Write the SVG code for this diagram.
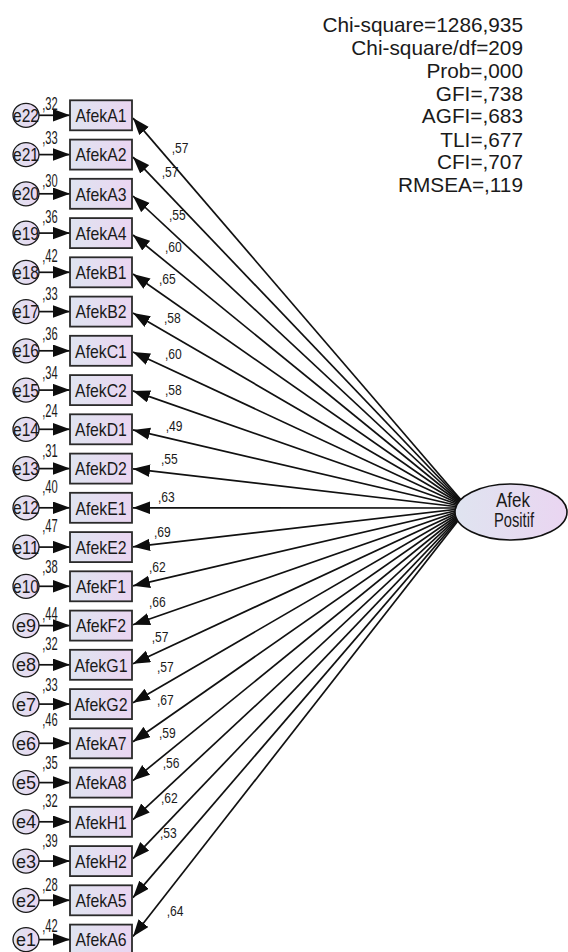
<svg xmlns="http://www.w3.org/2000/svg" width="568" height="952" viewBox="0 0 568 952">
<defs>
<linearGradient id="g" x1="0" y1="0" x2="1" y2="0">
<stop offset="0" stop-color="#dfe4f0"/>
<stop offset="1" stop-color="#ead5f1"/>
</linearGradient>
<marker id="ah" markerUnits="userSpaceOnUse" markerWidth="18" markerHeight="13" refX="17" refY="6.25" orient="auto">
<path d="M0,0 L17,6.25 L0,12.5 z" fill="#0d0d0d"/>
</marker>
</defs>
<style>
text{font-family:"Liberation Sans",Arial,sans-serif;fill:#1a1a1a}
.conn line{stroke:#111;stroke-width:1.7;marker-end:url(#ah)}
.obs rect{fill:url(#g);stroke:#2a2a2a;stroke-width:1.8}
.obs text{font-size:18.5px;text-anchor:middle}
.err ellipse{fill:url(#g);stroke:#1a1a1a;stroke-width:1.3}
.err text{font-size:18px;text-anchor:middle}
.ev{font-size:13px}
.pw{font-size:14.5px}
.fit{font-size:20.8px;text-anchor:end}
.lat ellipse{fill:url(#g);stroke:#111;stroke-width:1.6}
.lat text{font-size:19.5px;text-anchor:middle}
</style>
<rect width="568" height="952" fill="#fff"/>

<g id="fit">
<text class="fit" x="523" y="32.3">Chi-square=1286,935</text>
<text class="fit" x="523" y="55">Chi-square/df=209</text>
<text class="fit" x="523" y="77.7">Prob=,000</text>
<text class="fit" x="523" y="100.7">GFI=,738</text>
<text class="fit" x="523" y="123.3">AGFI=,683</text>
<text class="fit" x="523" y="146.7">TLI=,677</text>
<text class="fit" x="523" y="169.3">CFI=,707</text>
<text class="fit" x="523" y="192.3">RMSEA=,119</text>
</g>

<g id="connectors" class="conn">
<line x1="39" y1="115.3" x2="70" y2="115.3"/>
<line x1="39" y1="154.6" x2="70" y2="154.6"/>
<line x1="39" y1="193.8" x2="70" y2="193.8"/>
<line x1="39" y1="233.1" x2="70" y2="233.1"/>
<line x1="39" y1="272.3" x2="70" y2="272.3"/>
<line x1="39" y1="311.6" x2="70" y2="311.6"/>
<line x1="39" y1="350.8" x2="70" y2="350.8"/>
<line x1="39" y1="390.1" x2="70" y2="390.1"/>
<line x1="39" y1="429.3" x2="70" y2="429.3"/>
<line x1="39" y1="468.6" x2="70" y2="468.6"/>
<line x1="39" y1="507.8" x2="70" y2="507.8"/>
<line x1="39" y1="547.1" x2="70" y2="547.1"/>
<line x1="39" y1="586.3" x2="70" y2="586.3"/>
<line x1="39" y1="625.6" x2="70" y2="625.6"/>
<line x1="39" y1="664.8" x2="70" y2="664.8"/>
<line x1="39" y1="704.1" x2="70" y2="704.1"/>
<line x1="39" y1="743.3" x2="70" y2="743.3"/>
<line x1="39" y1="782.6" x2="70" y2="782.6"/>
<line x1="39" y1="821.8" x2="70" y2="821.8"/>
<line x1="39" y1="861.1" x2="70" y2="861.1"/>
<line x1="39" y1="900.3" x2="70" y2="900.3"/>
<line x1="39" y1="939.6" x2="70" y2="939.6"/>

<line x1="468" y1="508" x2="133" y2="118.1"/>
<line x1="468" y1="508" x2="133" y2="157.1"/>
<line x1="468" y1="508" x2="133" y2="196.0"/>
<line x1="468" y1="508" x2="133" y2="235.0"/>
<line x1="468" y1="508" x2="133" y2="274.0"/>
<line x1="468" y1="508" x2="133" y2="313.0"/>
<line x1="468" y1="508" x2="133" y2="352.0"/>
<line x1="468" y1="508" x2="133" y2="390.9"/>
<line x1="468" y1="508" x2="133" y2="429.9"/>
<line x1="468" y1="508" x2="133" y2="468.8"/>
<line x1="468" y1="508" x2="133" y2="507.8"/>
<line x1="468" y1="508" x2="133" y2="546.8"/>
<line x1="468" y1="508" x2="133" y2="585.8"/>
<line x1="468" y1="508" x2="133" y2="624.8"/>
<line x1="468" y1="508" x2="133" y2="663.7"/>
<line x1="468" y1="508" x2="133" y2="702.7"/>
<line x1="468" y1="508" x2="133" y2="741.7"/>
<line x1="468" y1="508" x2="133" y2="780.6"/>
<line x1="468" y1="508" x2="133" y2="819.6"/>
<line x1="468" y1="508" x2="133" y2="858.6"/>
<line x1="468" y1="508" x2="133" y2="897.6"/>
<line x1="468" y1="508" x2="133" y2="936.6"/>
</g>

<g id="path-weights">
<text class="pw" x="171.7" y="153" textLength="16.8" lengthAdjust="spacingAndGlyphs">,57</text>
<text class="pw" x="161.7" y="177" textLength="16.8" lengthAdjust="spacingAndGlyphs">,57</text>
<text class="pw" x="169" y="220" textLength="16.8" lengthAdjust="spacingAndGlyphs">,55</text>
<text class="pw" x="165" y="251.7" textLength="16.8" lengthAdjust="spacingAndGlyphs">,60</text>
<text class="pw" x="159" y="284" textLength="16.8" lengthAdjust="spacingAndGlyphs">,65</text>
<text class="pw" x="164" y="323" textLength="16.8" lengthAdjust="spacingAndGlyphs">,58</text>
<text class="pw" x="165" y="359" textLength="16.8" lengthAdjust="spacingAndGlyphs">,60</text>
<text class="pw" x="165" y="395" textLength="16.8" lengthAdjust="spacingAndGlyphs">,58</text>
<text class="pw" x="165.7" y="430.7" textLength="16.8" lengthAdjust="spacingAndGlyphs">,49</text>
<text class="pw" x="161" y="464" textLength="16.8" lengthAdjust="spacingAndGlyphs">,55</text>
<text class="pw" x="158" y="501.7" textLength="16.8" lengthAdjust="spacingAndGlyphs">,63</text>
<text class="pw" x="154" y="536.7" textLength="16.8" lengthAdjust="spacingAndGlyphs">,69</text>
<text class="pw" x="149" y="571.7" textLength="16.8" lengthAdjust="spacingAndGlyphs">,62</text>
<text class="pw" x="149" y="606.7" textLength="16.8" lengthAdjust="spacingAndGlyphs">,66</text>
<text class="pw" x="151.7" y="641.7" textLength="16.8" lengthAdjust="spacingAndGlyphs">,57</text>
<text class="pw" x="157" y="671.7" textLength="16.8" lengthAdjust="spacingAndGlyphs">,57</text>
<text class="pw" x="157" y="705" textLength="16.8" lengthAdjust="spacingAndGlyphs">,67</text>
<text class="pw" x="159" y="738" textLength="16.8" lengthAdjust="spacingAndGlyphs">,59</text>
<text class="pw" x="162.7" y="768" textLength="16.8" lengthAdjust="spacingAndGlyphs">,56</text>
<text class="pw" x="161" y="803" textLength="16.8" lengthAdjust="spacingAndGlyphs">,62</text>
<text class="pw" x="160" y="838" textLength="16.8" lengthAdjust="spacingAndGlyphs">,53</text>
<text class="pw" x="166.7" y="915.7" textLength="16.8" lengthAdjust="spacingAndGlyphs">,64</text>
</g>

<g id="afek-positif" class="lat">
<ellipse cx="511" cy="512" rx="56" ry="28"/>
<text x="513" y="506.7" textLength="34" lengthAdjust="spacingAndGlyphs">Afek</text>
<text x="514" y="527" textLength="40" lengthAdjust="spacingAndGlyphs">Positif</text>
</g>

<g id="AfekA1" class="obs"><rect x="70" y="100.3" width="62" height="30"/><text x="101" y="122" textLength="51" lengthAdjust="spacingAndGlyphs">AfekA1</text><text class="ev" x="50" y="109.7" textLength="15.5" lengthAdjust="spacingAndGlyphs">,32</text></g>
<g id="AfekA2" class="obs"><rect x="70" y="139.6" width="62" height="30"/><text x="101" y="161.3" textLength="51" lengthAdjust="spacingAndGlyphs">AfekA2</text><text class="ev" x="50" y="144.2" textLength="15.5" lengthAdjust="spacingAndGlyphs">,33</text></g>
<g id="AfekA3" class="obs"><rect x="70" y="178.8" width="62" height="30"/><text x="101" y="200.5" textLength="51" lengthAdjust="spacingAndGlyphs">AfekA3</text><text class="ev" x="50" y="187.2" textLength="15.5" lengthAdjust="spacingAndGlyphs">,30</text></g>
<g id="AfekA4" class="obs"><rect x="70" y="218.1" width="62" height="30"/><text x="101" y="239.8" textLength="51" lengthAdjust="spacingAndGlyphs">AfekA4</text><text class="ev" x="50" y="223" textLength="15.5" lengthAdjust="spacingAndGlyphs">,36</text></g>
<g id="AfekB1" class="obs"><rect x="70" y="257.3" width="62" height="30"/><text x="101" y="279" textLength="51" lengthAdjust="spacingAndGlyphs">AfekB1</text><text class="ev" x="50" y="262" textLength="15.5" lengthAdjust="spacingAndGlyphs">,42</text></g>
<g id="AfekB2" class="obs"><rect x="70" y="296.6" width="62" height="30"/><text x="101" y="318.3" textLength="51" lengthAdjust="spacingAndGlyphs">AfekB2</text><text class="ev" x="50" y="300" textLength="15.5" lengthAdjust="spacingAndGlyphs">,33</text></g>
<g id="AfekC1" class="obs"><rect x="70" y="335.8" width="62" height="30"/><text x="101" y="357.5" textLength="51.8" lengthAdjust="spacingAndGlyphs">AfekC1</text><text class="ev" x="50" y="340" textLength="15.5" lengthAdjust="spacingAndGlyphs">,36</text></g>
<g id="AfekC2" class="obs"><rect x="70" y="375.1" width="62" height="30"/><text x="101" y="396.8" textLength="51.8" lengthAdjust="spacingAndGlyphs">AfekC2</text><text class="ev" x="50" y="379" textLength="15.5" lengthAdjust="spacingAndGlyphs">,34</text></g>
<g id="AfekD1" class="obs"><rect x="70" y="414.3" width="62" height="30"/><text x="101" y="436" textLength="51.8" lengthAdjust="spacingAndGlyphs">AfekD1</text><text class="ev" x="50" y="417" textLength="15.5" lengthAdjust="spacingAndGlyphs">,24</text></g>
<g id="AfekD2" class="obs"><rect x="70" y="453.6" width="62" height="30"/><text x="101" y="475.3" textLength="51.8" lengthAdjust="spacingAndGlyphs">AfekD2</text><text class="ev" x="50" y="457" textLength="15.5" lengthAdjust="spacingAndGlyphs">,31</text></g>
<g id="AfekE1" class="obs"><rect x="70" y="492.8" width="62" height="30"/><text x="101" y="514.5" textLength="51" lengthAdjust="spacingAndGlyphs">AfekE1</text><text class="ev" x="50" y="493" textLength="15.5" lengthAdjust="spacingAndGlyphs">,40</text></g>
<g id="AfekE2" class="obs"><rect x="70" y="532.1" width="62" height="30"/><text x="101" y="553.8" textLength="51" lengthAdjust="spacingAndGlyphs">AfekE2</text><text class="ev" x="50" y="532" textLength="15.5" lengthAdjust="spacingAndGlyphs">,47</text></g>
<g id="AfekF1" class="obs"><rect x="70" y="571.3" width="62" height="30"/><text x="101" y="593" textLength="50.2" lengthAdjust="spacingAndGlyphs">AfekF1</text><text class="ev" x="50" y="573" textLength="15.5" lengthAdjust="spacingAndGlyphs">,38</text></g>
<g id="AfekF2" class="obs"><rect x="70" y="610.6" width="62" height="30"/><text x="101" y="632.3" textLength="50.2" lengthAdjust="spacingAndGlyphs">AfekF2</text><text class="ev" x="50" y="620" textLength="15.5" lengthAdjust="spacingAndGlyphs">,44</text></g>
<g id="AfekG1" class="obs"><rect x="70" y="649.8" width="62" height="30"/><text x="101" y="671.5" textLength="53" lengthAdjust="spacingAndGlyphs">AfekG1</text><text class="ev" x="50" y="650" textLength="15.5" lengthAdjust="spacingAndGlyphs">,32</text></g>
<g id="AfekG2" class="obs"><rect x="70" y="689.1" width="62" height="30"/><text x="101" y="710.8" textLength="53" lengthAdjust="spacingAndGlyphs">AfekG2</text><text class="ev" x="50" y="691" textLength="15.5" lengthAdjust="spacingAndGlyphs">,33</text></g>
<g id="AfekA7" class="obs"><rect x="70" y="728.3" width="62" height="30"/><text x="101" y="750" textLength="51" lengthAdjust="spacingAndGlyphs">AfekA7</text><text class="ev" x="50" y="726" textLength="15.5" lengthAdjust="spacingAndGlyphs">,46</text></g>
<g id="AfekA8" class="obs"><rect x="70" y="767.6" width="62" height="30"/><text x="101" y="789.3" textLength="51" lengthAdjust="spacingAndGlyphs">AfekA8</text><text class="ev" x="50" y="769" textLength="15.5" lengthAdjust="spacingAndGlyphs">,35</text></g>
<g id="AfekH1" class="obs"><rect x="70" y="806.8" width="62" height="30"/><text x="101" y="828.5" textLength="51.8" lengthAdjust="spacingAndGlyphs">AfekH1</text><text class="ev" x="50" y="807" textLength="15.5" lengthAdjust="spacingAndGlyphs">,32</text></g>
<g id="AfekH2" class="obs"><rect x="70" y="846.1" width="62" height="30"/><text x="101" y="867.8" textLength="51.8" lengthAdjust="spacingAndGlyphs">AfekH2</text><text class="ev" x="50" y="847" textLength="15.5" lengthAdjust="spacingAndGlyphs">,39</text></g>
<g id="AfekA5" class="obs"><rect x="70" y="885.3" width="62" height="30"/><text x="101" y="907" textLength="51" lengthAdjust="spacingAndGlyphs">AfekA5</text><text class="ev" x="50" y="891" textLength="15.5" lengthAdjust="spacingAndGlyphs">,28</text></g>
<g id="AfekA6" class="obs"><rect x="70" y="924.6" width="62" height="30"/><text x="101" y="946.3" textLength="51" lengthAdjust="spacingAndGlyphs">AfekA6</text><text class="ev" x="50" y="932" textLength="15.5" lengthAdjust="spacingAndGlyphs">,42</text></g>

<g id="e22" class="err"><ellipse cx="26" cy="115.3" rx="13" ry="12"/><text x="26" y="121.8" textLength="26" lengthAdjust="spacingAndGlyphs">e22</text></g>
<g id="e21" class="err"><ellipse cx="26" cy="154.6" rx="13" ry="12"/><text x="26" y="161.1" textLength="26" lengthAdjust="spacingAndGlyphs">e21</text></g>
<g id="e20" class="err"><ellipse cx="26" cy="193.8" rx="13" ry="12"/><text x="26" y="200.3" textLength="26" lengthAdjust="spacingAndGlyphs">e20</text></g>
<g id="e19" class="err"><ellipse cx="26" cy="233.1" rx="13" ry="12"/><text x="26" y="239.6" textLength="26" lengthAdjust="spacingAndGlyphs">e19</text></g>
<g id="e18" class="err"><ellipse cx="26" cy="272.3" rx="13" ry="12"/><text x="26" y="278.8" textLength="26" lengthAdjust="spacingAndGlyphs">e18</text></g>
<g id="e17" class="err"><ellipse cx="26" cy="311.6" rx="13" ry="12"/><text x="26" y="318.1" textLength="26" lengthAdjust="spacingAndGlyphs">e17</text></g>
<g id="e16" class="err"><ellipse cx="26" cy="350.8" rx="13" ry="12"/><text x="26" y="357.3" textLength="26" lengthAdjust="spacingAndGlyphs">e16</text></g>
<g id="e15" class="err"><ellipse cx="26" cy="390.1" rx="13" ry="12"/><text x="26" y="396.6" textLength="26" lengthAdjust="spacingAndGlyphs">e15</text></g>
<g id="e14" class="err"><ellipse cx="26" cy="429.3" rx="13" ry="12"/><text x="26" y="435.8" textLength="26" lengthAdjust="spacingAndGlyphs">e14</text></g>
<g id="e13" class="err"><ellipse cx="26" cy="468.6" rx="13" ry="12"/><text x="26" y="475.1" textLength="26" lengthAdjust="spacingAndGlyphs">e13</text></g>
<g id="e12" class="err"><ellipse cx="26" cy="507.8" rx="13" ry="12"/><text x="26" y="514.3" textLength="26" lengthAdjust="spacingAndGlyphs">e12</text></g>
<g id="e11" class="err"><ellipse cx="26" cy="547.1" rx="13" ry="12"/><text x="26" y="553.6" textLength="26" lengthAdjust="spacingAndGlyphs">e11</text></g>
<g id="e10" class="err"><ellipse cx="26" cy="586.3" rx="13" ry="12"/><text x="26" y="592.8" textLength="26" lengthAdjust="spacingAndGlyphs">e10</text></g>
<g id="e9" class="err"><ellipse cx="26" cy="625.6" rx="13" ry="12"/><text x="26" y="632.1">e9</text></g>
<g id="e8" class="err"><ellipse cx="26" cy="664.8" rx="13" ry="12"/><text x="26" y="671.3">e8</text></g>
<g id="e7" class="err"><ellipse cx="26" cy="704.1" rx="13" ry="12"/><text x="26" y="710.6">e7</text></g>
<g id="e6" class="err"><ellipse cx="26" cy="743.3" rx="13" ry="12"/><text x="26" y="749.8">e6</text></g>
<g id="e5" class="err"><ellipse cx="26" cy="782.6" rx="13" ry="12"/><text x="26" y="789.1">e5</text></g>
<g id="e4" class="err"><ellipse cx="26" cy="821.8" rx="13" ry="12"/><text x="26" y="828.3">e4</text></g>
<g id="e3" class="err"><ellipse cx="26" cy="861.1" rx="13" ry="12"/><text x="26" y="867.6">e3</text></g>
<g id="e2" class="err"><ellipse cx="26" cy="900.3" rx="13" ry="12"/><text x="26" y="906.8">e2</text></g>
<g id="e1" class="err"><ellipse cx="26" cy="939.6" rx="13" ry="12"/><text x="26" y="946.1">e1</text></g>
</svg>
